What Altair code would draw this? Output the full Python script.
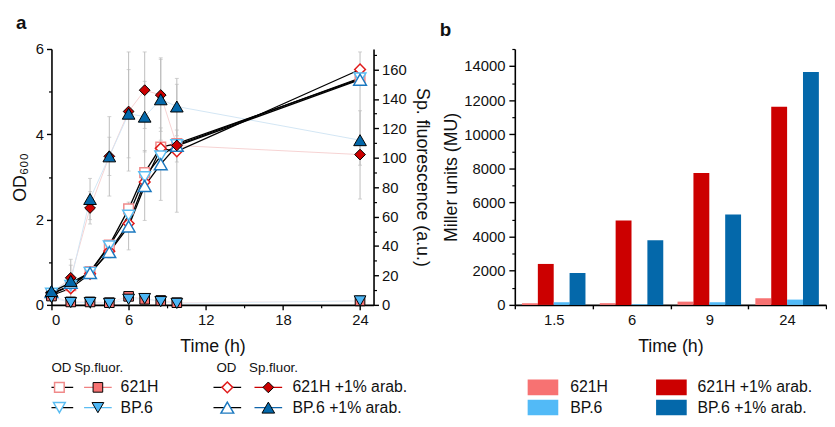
import altair as alt
import pandas as pd

FONT = "Liberation Sans"

# ---------------- Panel a data ----------------
times = [0, 1.5, 3, 4.5, 6, 7.25, 8.5, 9.75, 24]
series = ["621H", "621H +1% arab.", "BP.6", "BP.6 +1% arab."]

od_621H = [0.25, 0.45, 0.78, 1.40, 2.25, 3.10, 3.70, 3.78, 5.30]
od_621H_arab = [0.22, 0.39, 0.73, 1.26, 1.91, 2.88, 3.67, 3.60, 5.52]
od_BP6 = [0.27, 0.45, 0.76, 1.38, 2.10, 3.00, 3.49, 3.75, 5.32]
od_BP6_arab = [0.30, 0.52, 0.75, 1.24, 1.84, 2.79, 3.30, 3.73, 5.28]

fl_621H = [6.0, 2.0, 2.0, 1.5, 5.8, 3.8, 3.0, 1.5, 2.7]
fl_621H_arab = [8.0, 18.4, 65.9, 101.0, 131.5, 146.0, 142.7, 108.4, 102.2]
fl_BP6 = [5.0, 1.6, 1.6, 1.0, 3.8, 4.3, 2.2, 1.0, 2.7]
fl_BP6_arab = [9.4, 16.3, 72.0, 101.0, 130.0, 128.0, 139.8, 134.9, 112.0]

fl_621H_arab_lo = [7, 9.4, 55, 74, 91, 120, 118, 63, 72]
fl_621H_arab_hi = [9, 27, 77, 128, 172, 172, 167, 154, 132]
fl_BP6_arab_lo = [8, 1.3, 58, 88, 100, 104, 112, 115, 95]
fl_BP6_arab_hi = [11, 31, 86, 114, 160, 152, 168, 150, 172]

od_err_lo = [0.25, 0.40, 0.65, 1.10, 1.29, 1.98, 2.45, 3.35, 5.15]
od_err_hi = [0.35, 0.62, 0.85, 1.40, 2.41, 3.62, 4.15, 4.10, 5.40]

# ---------------- Panel b data ----------------
bar_times = ["1.5", "6", "9", "24"]
mu_621H = [100, 100, 190, 390]
mu_621H_arab = [2400, 4950, 7735, 11620]
mu_BP6 = [155, 40, 155, 310]
mu_BP6_arab = [1875, 3790, 5300, 13650]

# ---------------- tables ----------------
od_vals = [od_621H, od_621H_arab, od_BP6, od_BP6_arab]
fl_vals = [fl_621H, fl_621H_arab, fl_BP6, fl_BP6_arab]
od_df = pd.DataFrame([{"time": t, "series": s, "od": v}
                      for s, vals in zip(series, od_vals) for t, v in zip(times, vals)])
fl_df = pd.DataFrame([{"time": t, "series": s, "fl": v}
                      for s, vals in zip(series, fl_vals) for t, v in zip(times, vals)])
err_df = pd.DataFrame(
    [{"time": t, "lo": lo, "hi": hi} for t, lo, hi in zip(times, fl_621H_arab_lo, fl_621H_arab_hi)]
    + [{"time": t, "lo": lo, "hi": hi} for t, lo, hi in zip(times, fl_BP6_arab_lo, fl_BP6_arab_hi)])
cap_df = pd.DataFrame([{"time": r["time"], "v": r[k]} for _, r in err_df.iterrows() for k in ("lo", "hi")])
od_err_df = pd.DataFrame([{"time": t, "lo": lo, "hi": hi}
                          for t, lo, hi in zip(times, od_err_lo, od_err_hi)])
od_cap_df = pd.DataFrame([{"time": r["time"], "v": r[k]} for _, r in od_err_df.iterrows() for k in ("lo", "hi")])
mu_vals = [mu_621H, mu_621H_arab, mu_BP6, mu_BP6_arab]
bar_df = pd.DataFrame([{"time": t, "series": s, "mu": v}
                       for s, vals in zip(series, mu_vals) for t, v in zip(bar_times, vals)])

# ---------------- scales ----------------
shape_sc = alt.Scale(domain=series, range=["square", "diamond", "triangle-down", "triangle-up"])
size_sc = alt.Scale(domain=series, range=[95, 165, 135, 135])
od_stroke_sc = alt.Scale(domain=series, range=["#F08A8A", "#E01B1B", "#5BBDF2", "#1C79C0"])
fl_fill_sc = alt.Scale(domain=series, range=["#F77272", "#CC0000", "#4DB6F5", "#0468AA"])
faint_sc = alt.Scale(domain=series, range=["#FBE6E6", "#F6D2D2", "#DDEFFA", "#D2E6F4"])
bar_sc = alt.Scale(domain=series, range=["#F77272", "#CC0000", "#52BAF7", "#0468AA"])
legline_sc = alt.Scale(domain=series, range=["#F08080", "#CC0000", "#5BBDF2", "#1066AA"])
legwidth_sc = alt.Scale(domain=series, range=[1.2, 1.2, 2.6, 1.2])

xs = alt.Scale(domain=[0, 25.05], nice=False, zero=False)
ods = alt.Scale(domain=[0, 6], nice=False)
fls = alt.Scale(domain=[0, 174], nice=False)

LAB = 15
TIT = 18
ERR = "#BDBDBD"

x_major = alt.Axis(values=[0, 6, 12, 18, 24], title="Time (h)", tickSize=5, labelFontSize=LAB,
                   titleFontSize=TIT, titleFontWeight="normal", labelPadding=3, titlePadding=10,
                   orient="bottom", domainWidth=1.6, tickWidth=1.4)
x_minor = alt.Axis(values=[3, 9, 15, 21], labels=False, tickSize=3, domain=False, title=None,
                   orient="bottom", tickWidth=1.2)
y_left = alt.Axis(values=[0, 2, 4, 6], title="OD₆₀₀", tickSize=5, labelFontSize=LAB,
                  titleFontSize=TIT, titleFontWeight="normal", orient="left", labelPadding=3,
                  titlePadding=6, domainWidth=1.6, tickWidth=1.4)
y_left_minor = alt.Axis(values=[1, 3, 5], labels=False, tickSize=3, domain=False, title=None,
                        orient="left", tickWidth=1.2)
y_right = alt.Axis(values=list(range(0, 161, 20)), title="Sp. fluorescence (a.u.)", tickSize=5,
                   labelFontSize=LAB, titleFontSize=TIT, titleFontWeight="normal", orient="right",
                   labelPadding=3, titlePadding=6, domainWidth=1.6, tickWidth=1.4)
y_right_minor = alt.Axis(values=list(range(10, 171, 20)), labels=False, tickSize=3, domain=False,
                         title=None, orient="right", tickWidth=1.2)

lay_faint = alt.Chart(fl_df).mark_line(strokeWidth=1).encode(
    x=alt.X("time:Q", scale=xs, axis=None),
    y=alt.Y("fl:Q", scale=fls, axis=y_right),
    color=alt.Color("series:N", scale=faint_sc, legend=None),
)
lay_err = alt.Chart(err_df).mark_rule(color=ERR, strokeWidth=1).encode(
    x=alt.X("time:Q", scale=xs, axis=x_minor),
    y=alt.Y("lo:Q", scale=fls, axis=None),
    y2="hi:Q",
)
lay_cap = alt.Chart(cap_df).mark_tick(color=ERR, orient="horizontal", size=4, thickness=1).encode(
    x=alt.X("time:Q", scale=xs, axis=None),
    y=alt.Y("v:Q", scale=fls, axis=None),
)
lay_oderr = alt.Chart(od_err_df).mark_rule(color=ERR, strokeWidth=1).encode(
    x=alt.X("time:Q", scale=xs, axis=None),
    y=alt.Y("lo:Q", scale=ods, axis=y_left_minor),
    y2="hi:Q",
)
lay_odcap = alt.Chart(od_cap_df).mark_tick(color=ERR, orient="horizontal", size=4, thickness=1).encode(
    x=alt.X("time:Q", scale=xs, axis=None),
    y=alt.Y("v:Q", scale=ods, axis=None),
)
lay_odline = alt.Chart(od_df).mark_line(color="black", strokeWidth=1.3).encode(
    x=alt.X("time:Q", scale=xs, axis=x_major),
    y=alt.Y("od:Q", scale=ods, axis=y_left),
    detail="series:N",
)
lay_odpts = alt.Chart(od_df).mark_point(filled=True, fill="white", strokeWidth=1.5, opacity=1).encode(
    x=alt.X("time:Q", scale=xs, axis=None),
    y=alt.Y("od:Q", scale=ods, axis=None),
    shape=alt.Shape("series:N", scale=shape_sc, legend=None),
    stroke=alt.Stroke("series:N", scale=od_stroke_sc, legend=None),
    size=alt.Size("series:N", scale=size_sc, legend=None),
)
lay_flpts = alt.Chart(fl_df).mark_point(filled=True, stroke="black", strokeWidth=1, opacity=1).encode(
    x=alt.X("time:Q", scale=xs, axis=None),
    y=alt.Y("fl:Q", scale=fls, axis=y_right_minor),
    shape=alt.Shape("series:N", scale=shape_sc, legend=None),
    fill=alt.Fill("series:N", scale=fl_fill_sc, legend=None),
    size=alt.Size("series:N", scale=size_sc, legend=None),
)

panel_a = alt.layer(lay_faint, lay_err, lay_cap, lay_oderr, lay_odcap, lay_odline, lay_odpts,
                    lay_flpts).resolve_scale(y="independent").resolve_axis(
    x="independent", y="independent").properties(
    width=326, height=259,
    title=alt.TitleParams("a", anchor="start", frame="group", fontSize=19, fontWeight="bold",
                          dx=-36, offset=9),
)

# ---------------- Panel b ----------------
bx = alt.Scale(domain=bar_times, paddingInner=0, paddingOuter=0)
bxo = alt.Scale(domain=series, paddingInner=0, paddingOuter=0.45)
bys = alt.Scale(domain=[0, 15000], nice=False)
B_W = 315

bars = alt.Chart(bar_df).mark_bar().encode(
    x=alt.X("time:N", sort=bar_times, scale=bx,
            axis=alt.Axis(title="Time (h)", labelAngle=0, tickBand="extent", tickSize=4,
                          labelFontSize=LAB, titleFontSize=TIT, titleFontWeight="normal",
                          labelPadding=4, titlePadding=10, domainWidth=1.6, tickWidth=1.4)),
    xOffset=alt.XOffset("series:N", sort=series, scale=bxo),
    y=alt.Y("mu:Q", scale=bys,
            axis=alt.Axis(values=list(range(0, 14001, 2000)), format="d", title="Miller units (MU)",
                          tickSize=6, labelFontSize=LAB, titleFontSize=TIT, titleFontWeight="normal",
                          labelPadding=4, titlePadding=3, domainWidth=1.6, tickWidth=1.4)),
    color=alt.Color("series:N", scale=bar_sc, legend=None),
)
bars_minor = alt.Chart(bar_df).mark_bar(opacity=0).encode(
    x=alt.X("time:N", sort=bar_times, scale=bx, axis=None),
    xOffset=alt.XOffset("series:N", sort=series, scale=bxo),
    y=alt.Y("mu:Q", scale=bys,
            axis=alt.Axis(values=list(range(1000, 15001, 2000)), labels=False, tickSize=3,
                          domain=False, title=None, orient="left", tickWidth=1.2)),
)
panel_b = alt.layer(bars, bars_minor).resolve_axis(x="independent", y="independent").properties(
    width=B_W, height=259,
    title=alt.TitleParams("b", anchor="start", frame="group", fontSize=19, fontWeight="bold",
                          dx=-76, offset=9),
)

# ---------------- Legends (layout in legend units) ----------------
leg_block = [0, 1, 0, 1]
leg_row = [0, 0, 1, 1]
OD_X = [8, 178]
FL_X = [47, 219.5]
LAB_X = [70, 244]
HEAD_Y = 9
ROW_Y = [28.5, 49]
HALF = 14
LEG_H = 57
LEGA_W = 370

legA_df = pd.DataFrame([{
    "series": s,
    "od_x": OD_X[b], "od_x0": OD_X[b] - HALF, "od_x1": OD_X[b] + HALF,
    "fl_x": FL_X[b], "fl_x0": FL_X[b] - HALF, "fl_x1": FL_X[b] + HALF,
    "lab_x": LAB_X[b], "y": ROW_Y[r]} for s, b, r in zip(series, leg_block, leg_row)])
head_df = pd.DataFrame({"text": ["OD", "Sp.fluor.", "OD", "Sp.fluor."],
                        "x": [0, 23, 167, 200], "y": [HEAD_Y] * 4})

lx = alt.Scale(domain=[0, LEGA_W], nice=False, zero=False)
ly = alt.Scale(domain=[0, LEG_H], reverse=True, nice=False, zero=False)

lbase = alt.Chart(legA_df)
legA = alt.layer(
    lbase.mark_rule(color="black", strokeWidth=1.5, clip=True).encode(
        x=alt.X("od_x0:Q", scale=lx, axis=None), x2="od_x1:Q",
        y=alt.Y("y:Q", scale=ly, axis=None)),
    lbase.mark_rule(clip=True).encode(
        x=alt.X("fl_x0:Q", scale=lx, axis=None), x2="fl_x1:Q",
        y=alt.Y("y:Q", scale=ly, axis=None),
        color=alt.Color("series:N", scale=legline_sc, legend=None),
        strokeWidth=alt.StrokeWidth("series:N", scale=legwidth_sc, legend=None)),
    lbase.mark_point(filled=True, fill="white", strokeWidth=1.5, opacity=1, clip=True).encode(
        x=alt.X("od_x:Q", scale=lx, axis=None),
        y=alt.Y("y:Q", scale=ly, axis=None),
        shape=alt.Shape("series:N", scale=shape_sc, legend=None),
        stroke=alt.Stroke("series:N", scale=od_stroke_sc, legend=None),
        size=alt.Size("series:N", scale=size_sc, legend=None)),
    lbase.mark_point(filled=True, stroke="black", strokeWidth=1, opacity=1, clip=True).encode(
        x=alt.X("fl_x:Q", scale=lx, axis=None),
        y=alt.Y("y:Q", scale=ly, axis=None),
        shape=alt.Shape("series:N", scale=shape_sc, legend=None),
        fill=alt.Fill("series:N", scale=fl_fill_sc, legend=None),
        size=alt.Size("series:N", scale=size_sc, legend=None)),
    lbase.mark_text(align="left", baseline="middle", fontSize=16, color="#111", clip=True).encode(
        x=alt.X("lab_x:Q", scale=lx, axis=None),
        y=alt.Y("y:Q", scale=ly, axis=None),
        text="series:N"),
    alt.Chart(head_df).mark_text(align="left", baseline="middle", fontSize=13.5, color="#111",
                                 clip=True).encode(
        x=alt.X("x:Q", scale=lx, axis=None),
        y=alt.Y("y:Q", scale=ly, axis=None),
        text="text:N"),
).properties(width=LEGA_W, height=LEG_H)

SQ_X = [13, 143]
SQ_W = 31
LABB_X = [56, 185]
legB_df = pd.DataFrame([{
    "series": s, "x0": SQ_X[b], "x1": SQ_X[b] + SQ_W, "lab_x": LABB_X[b],
    "y": ROW_Y[r], "y0": ROW_Y[r] - 8, "y1": ROW_Y[r] + 8} for s, b, r in zip(series, leg_block, leg_row)])
lxb = alt.Scale(domain=[0, B_W], nice=False, zero=False)
bbase = alt.Chart(legB_df)
legB = alt.layer(
    bbase.mark_rect(clip=True).encode(
        x=alt.X("x0:Q", scale=lxb, axis=None), x2="x1:Q",
        y=alt.Y("y0:Q", scale=ly, axis=None), y2="y1:Q",
        color=alt.Color("series:N", scale=bar_sc, legend=None)),
    bbase.mark_text(align="left", baseline="middle", fontSize=16, color="#111", clip=True).encode(
        x=alt.X("lab_x:Q", scale=lxb, axis=None),
        y=alt.Y("y:Q", scale=ly, axis=None),
        text="series:N"),
).properties(width=B_W, height=LEG_H)

col_a = alt.vconcat(panel_a, legA, spacing=4).resolve_scale(color="independent")
col_b = alt.vconcat(panel_b, legB, spacing=4).resolve_scale(color="independent")

chart = alt.hconcat(col_a, col_b, spacing=9).resolve_scale(color="independent").properties(
    padding={"left": 3, "top": 4, "right": 0, "bottom": 0}
).configure(font=FONT).configure_view(stroke=None).configure_axis(
    domainColor="black", tickColor="black", labelColor="#111", titleColor="#111", grid=False,
    labelFont=FONT, titleFont=FONT,
).configure_title(font=FONT, color="#111")

chart.save("out.html", embed_options={"renderer": "svg", "actions": False})
